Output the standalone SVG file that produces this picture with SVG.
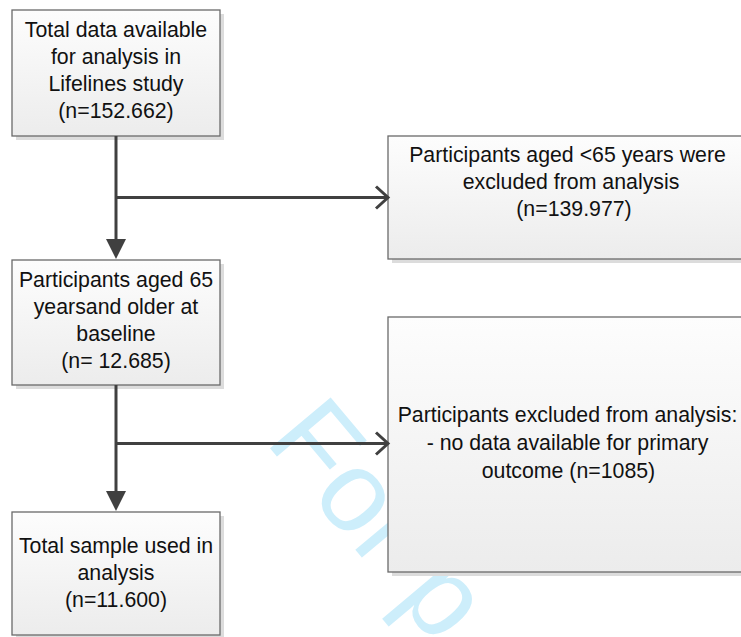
<svg xmlns="http://www.w3.org/2000/svg" width="741" height="637" viewBox="0 0 741 637">
  <defs>
    <linearGradient id="boxfill" x1="0" y1="0" x2="0" y2="1">
      <stop offset="0" stop-color="#fdfdfd"/>
      <stop offset="1" stop-color="#ececec"/>
    </linearGradient>
    <marker id="solid" markerUnits="userSpaceOnUse" markerWidth="20" markerHeight="20" refX="10" refY="10" orient="auto" overflow="visible">
      <path d="M0,0 L20,10 L0,20 Z" fill="#404040"/>
    </marker>
    <marker id="open" markerUnits="userSpaceOnUse" markerWidth="16" markerHeight="24" refX="13" refY="11" orient="auto" overflow="visible">
      <path d="M1,0 L13,11 L1,22" fill="none" stroke="#404040" stroke-width="3"/>
    </marker>
  </defs>
  <style>
    .shadow { fill: #dcdcdc; }
    .box { fill: url(#boxfill); stroke: #6a6a6a; stroke-width: 1.3; }
    .lbl { font-family: "Liberation Sans", Arial, sans-serif; font-size: 21.3px; fill: #111; text-anchor: middle; }
    .conn { fill: none; stroke: #404040; stroke-width: 3; }
    .wm { font-family: "Liberation Sans", Arial, sans-serif; font-size: 115px; fill: #cdeefb; }
  </style>
  <rect width="741" height="637" fill="#ffffff"/>
  <text class="wm" x="264" y="441" transform="rotate(50 264 441)">For p</text>

  <g id="node-total">
    <rect class="shadow" x="16" y="14" width="208" height="126"/>
    <rect class="box" x="12" y="10" width="208" height="126"/>
    <text class="lbl" x="116" y="37">Total data available</text>
    <text class="lbl" x="116" y="64">for analysis in</text>
    <text class="lbl" x="116" y="91">Lifelines study</text>
    <text class="lbl" x="116" y="118">(n=152.662)</text>
  </g>

  <g id="node-aged65">
    <rect class="shadow" x="16" y="264" width="208" height="125"/>
    <rect class="box" x="12" y="260" width="208" height="125"/>
    <text class="lbl" x="116" y="287">Participants aged 65</text>
    <text class="lbl" x="116" y="314">yearsand older at</text>
    <text class="lbl" x="116" y="341">baseline</text>
    <text class="lbl" x="116" y="368">(n= 12.685)</text>
  </g>

  <g id="node-sample">
    <rect class="shadow" x="16" y="516" width="208" height="123"/>
    <rect class="box" x="12" y="512" width="208" height="123"/>
    <text class="lbl" x="116" y="553">Total sample used in</text>
    <text class="lbl" x="116" y="580">analysis</text>
    <text class="lbl" x="116" y="607">(n=11.600)</text>
  </g>

  <g id="node-excl65">
    <rect class="shadow" x="392" y="140" width="360" height="123"/>
    <rect class="box" x="388" y="136" width="360" height="123"/>
    <text class="lbl" x="567.5" y="161.5">Participants aged &lt;65 years were</text>
    <text class="lbl" x="571" y="188.5">excluded from analysis</text>
    <text class="lbl" x="574" y="215.5">(n=139.977)</text>
  </g>

  <g id="node-exclout">
    <rect class="shadow" x="392" y="321" width="360" height="255"/>
    <rect class="box" x="388" y="317" width="360" height="255"/>
    <text class="lbl" x="567.5" y="422">Participants excluded from analysis:</text>
    <text class="lbl" x="567.5" y="450">- no data available for primary</text>
    <text class="lbl" x="568.5" y="478">outcome (n=1085)</text>
  </g>

  <g id="connectors">
    <path class="conn" d="M116,136 V249" marker-end="url(#solid)"/>
    <path class="conn" d="M116,197.5 H388" marker-end="url(#open)"/>
    <path class="conn" d="M116,385 V501" marker-end="url(#solid)"/>
    <path class="conn" d="M116,443.5 H388" marker-end="url(#open)"/>
  </g>
</svg>
